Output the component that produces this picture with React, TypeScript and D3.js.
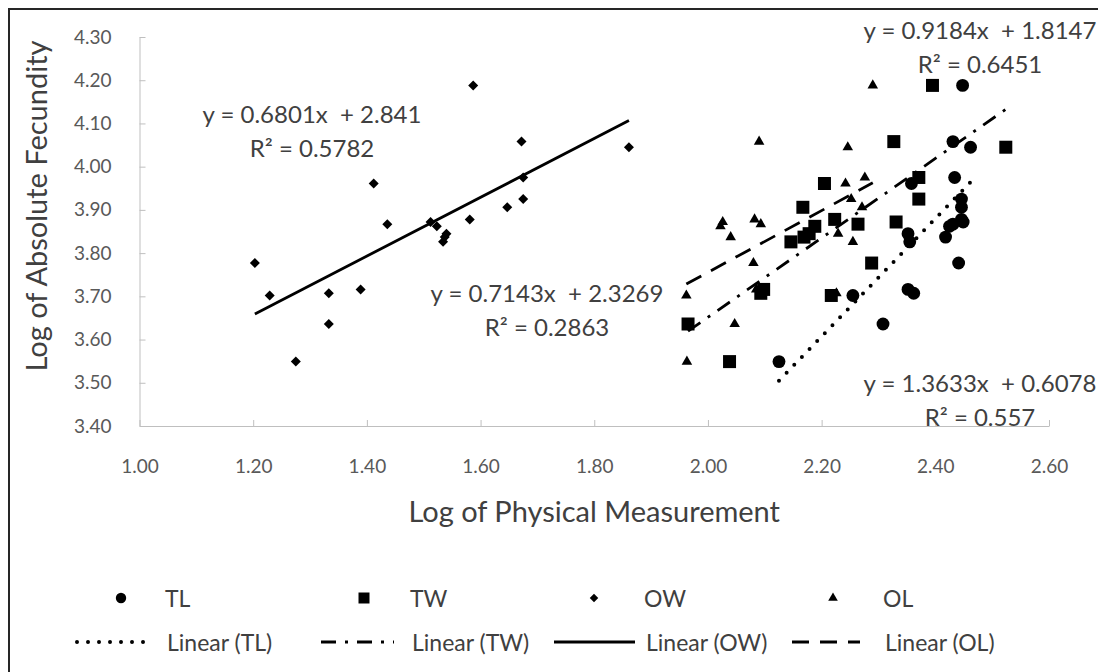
import React, { useEffect, useRef } from "react";
import * as d3 from "d3";

// log fecundity, one value per fish (shared by all four measurements)
const fecundity = [4.188, 4.058, 4.045, 3.975, 3.961, 3.925, 3.906, 3.878, 3.872, 3.867, 3.862, 3.845, 3.837, 3.826, 3.777, 3.716, 3.707, 3.702, 3.636, 3.549];

// log of the physical measurements
const tlValues = [2.448, 2.431, 2.462, 2.434, 2.358, 2.446, 2.446, 2.446, 2.449, 2.431, 2.425, 2.352, 2.418, 2.355, 2.441, 2.352, 2.362, 2.255, 2.308, 2.125];
const twValues = [2.395, 2.327, 2.524, 2.371, 2.205, 2.371, 2.167, 2.223, 2.331, 2.264, 2.188, 2.178, 2.169, 2.146, 2.288, 2.098, 2.093, 2.217, 1.965, 2.038];
const owValues = [1.587, 1.672, 1.861, 1.675, 1.412, 1.675, 1.647, 1.581, 1.512, 1.436, 1.523, 1.540, 1.537, 1.534, 1.203, 1.389, 1.333, 1.229, 1.333, 1.275];
const olValues = [2.290, 2.090, 2.246, 2.276, 2.242, 2.252, 2.271, 2.082, 2.026, 2.093, 2.022, 2.229, 2.040, 2.255, 2.080, 2.085, 2.226, 1.962, 2.047, 1.963];

const seriesNames = ["TL", "TW", "OW", "OL"];
const slopes = ["1.3633", "0.9184", "0.6801", "0.7143"];
const intercepts = ["0.6078", "1.8147", "2.841", "2.3269"];
const rSquared = ["0.557", "0.6451", "0.5782", "0.2863"];

const xTickLabels = ["1.00", "1.20", "1.40", "1.60", "1.80", "2.00", "2.20", "2.40", "2.60"];
const yTickLabels = ["3.40", "3.50", "3.60", "3.70", "3.80", "3.90", "4.00", "4.10", "4.20", "4.30"];

export default function App() {
  const ref = useRef<SVGSVGElement>(null);

  useEffect(() => {
    const width = 1098;
    const height = 672;
    const font = "Lato, 'Open Sans', sans-serif";
    const svg = d3.select(ref.current).attr("width", width).attr("height", height);
    svg.selectAll("*").remove();

    const x = d3.scaleLinear().domain([1.0, 2.6]).range([139.5, 1049]);
    const y = d3.scaleLinear().domain([3.4, 4.3]).range([426, 37]);

    svg.append("rect").attr("width", width).attr("height", height).attr("fill", "#fff");

    // outer frame (cut off at right and bottom)
    svg.append("rect")
      .attr("x", 9).attr("y", 9)
      .attr("width", 1300).attr("height", 900)
      .attr("fill", "none").attr("stroke", "#262626").attr("stroke-width", 2);

    // axes
    const xAxis = svg.append("g")
      .attr("transform", `translate(0, ${y(3.4)})`)
      .call(d3.axisBottom(x).tickValues(xTickLabels.map(Number)).tickFormat((d, i) => xTickLabels[i])
        .tickSize(-6).tickSizeOuter(0).tickPadding(34));
    const yAxis = svg.append("g")
      .attr("transform", `translate(${x(1.0)}, 0)`)
      .call(d3.axisLeft(y).tickValues(yTickLabels.map(Number)).tickFormat((d, i) => yTickLabels[i])
        .tickSize(-6).tickSizeOuter(0).tickPadding(28));
    [xAxis, yAxis].forEach(g => {
      g.select(".domain").attr("stroke", "#bfbfbf");
      g.selectAll(".tick line").attr("stroke", "#bfbfbf");
      g.selectAll(".tick text").attr("fill", "#595959").style("font-family", font).style("font-size", "19px");
    });

    // axis titles
    svg.append("text")
      .attr("x", (x(1.0) + x(2.6)) / 2).attr("y", 510)
      .attr("text-anchor", "middle").attr("dominant-baseline", "central")
      .style("font-family", font).style("font-size", "29px").attr("fill", "#404040")
      .text("Log of Physical Measurement");
    svg.append("text")
      .attr("transform", "translate(35, 206) rotate(-90)")
      .attr("text-anchor", "middle").attr("dominant-baseline", "central")
      .style("font-family", font).style("font-size", "29px").attr("fill", "#404040")
      .text("Log of Absolute Fecundity");

    const values = [tlValues, twValues, owValues, olValues];
    const symbols = [
      d3.symbol(d3.symbolCircle, 130),
      d3.symbol(d3.symbolSquare, 169),
      d3.symbol(d3.symbolSquare, 50),
      d3.symbol(d3.symbolTriangle, 48),
    ];
    const legendSymbols = [
      d3.symbol(d3.symbolCircle, 85),
      d3.symbol(d3.symbolSquare, 121),
      d3.symbol(d3.symbolSquare, 36),
      d3.symbol(d3.symbolTriangle, 40),
    ];
    const rotations = [0, 0, 45, 0];
    const dashes = ["0 11", "15 9 3 9", null, "17 11"];
    const lineWidths = [4, 2.8, 2.8, 2.8];
    const caps = ["round", "butt", "butt", "butt"];

    // markers
    values.forEach((vals, s) => {
      svg.append("g").selectAll("path")
        .data(vals)
        .enter()
        .append("path")
        .attr("d", symbols[s]())
        .attr("transform", (d, i) => `translate(${x(d)}, ${y(fecundity[i])}) rotate(${rotations[s]})`)
        .attr("fill", "#000");
    });

    // linear trendlines
    values.forEach((vals, s) => {
      const ext = d3.extent(vals) as [number, number];
      const m = +slopes[s];
      const b = +intercepts[s];
      const line = d3.line<number>().x(d => x(d)).y(d => y(m * d + b));
      const p = svg.append("path")
        .datum(ext)
        .attr("d", line)
        .attr("fill", "none").attr("stroke", "#000")
        .attr("stroke-width", lineWidths[s])
        .attr("stroke-linecap", caps[s]);
      if (dashes[s]) p.attr("stroke-dasharray", dashes[s]);
    });

    // equation labels
    const labelPos = [[980, 382], [980, 29], [312, 113], [547, 292]];
    seriesNames.forEach((name, s) => {
      const [lx, ly] = labelPos[s];
      svg.append("text")
        .attr("x", lx).attr("y", ly)
        .attr("text-anchor", "middle").attr("dominant-baseline", "central")
        .style("font-family", font).style("font-size", "24px").style("white-space", "pre")
        .attr("fill", "#404040")
        .text(`y = ${slopes[s]}x  + ${intercepts[s]}`);
      svg.append("text")
        .attr("x", lx).attr("y", ly + 34)
        .attr("text-anchor", "middle").attr("dominant-baseline", "central")
        .style("font-family", font).style("font-size", "24px")
        .attr("fill", "#404040")
        .text(`R² = ${rSquared[s]}`);
    });

    // legend
    const legendX = [121, 364, 594, 833];
    const legendTextX = [165, 410, 644, 883];
    const lineX = [[77, 150], [321, 394], [554, 635], [792, 860]];
    const row1 = 598;
    const row2 = 642;
    seriesNames.forEach((name, s) => {
      svg.append("path")
        .attr("d", legendSymbols[s]())
        .attr("transform", `translate(${legendX[s]}, ${row1}) rotate(${rotations[s]})`)
        .attr("fill", "#000");
      svg.append("text")
        .attr("x", legendTextX[s]).attr("y", row1)
        .attr("dominant-baseline", "central")
        .style("font-family", font).style("font-size", "23px").attr("fill", "#404040")
        .text(name);
      const p = svg.append("line")
        .attr("x1", lineX[s][0]).attr("x2", lineX[s][1])
        .attr("y1", row2).attr("y2", row2)
        .attr("stroke", "#000").attr("stroke-width", lineWidths[s])
        .attr("stroke-linecap", caps[s]);
      if (dashes[s]) p.attr("stroke-dasharray", dashes[s]);
      svg.append("text")
        .attr("x", legendTextX[s] + 2).attr("y", row2)
        .attr("dominant-baseline", "central")
        .style("font-family", font).style("font-size", "23px").attr("fill", "#404040")
        .text(`Linear (${name})`);
    });
  }, []);

  return <svg ref={ref} style={{ position: "absolute", left: 0, top: 0 }} />;
}
